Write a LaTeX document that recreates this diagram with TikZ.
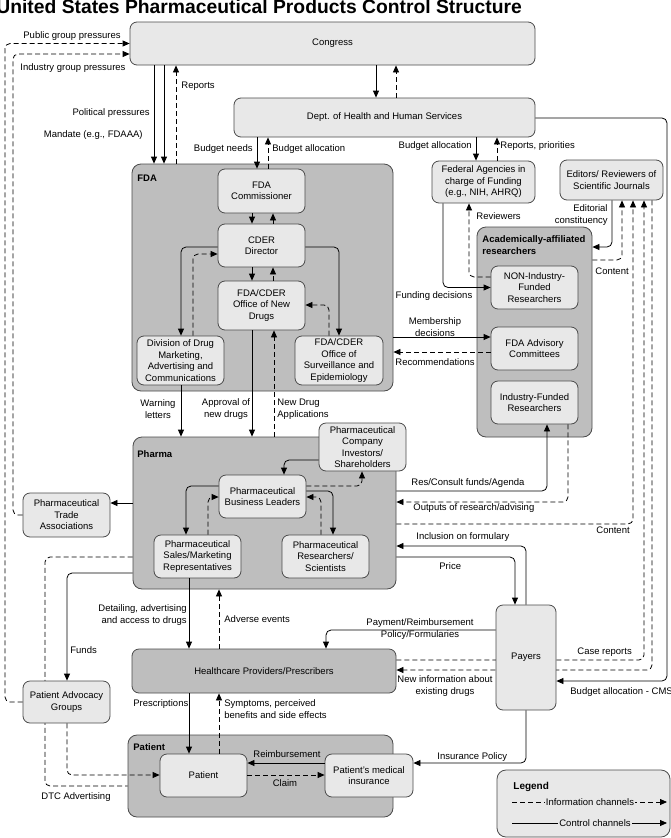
\documentclass[tikz,border=0pt]{standalone}
\usepackage{fontspec}
\setmainfont{Liberation Sans}
\usetikzlibrary{arrows.meta}
\definecolor{boxgray}{HTML}{E8E8E8}
\definecolor{groupgray}{HTML}{BEBEBE}
\definecolor{edgegray}{HTML}{4A4A4A}

\begin{document}
\begin{tikzpicture}[x=1pt, y=-1pt, >={Triangle[length=7pt,width=6pt]}, line width=0.8pt,
        every node/.style={font=\fontsize{9.5}{11.5}\selectfont, inner sep=1pt},
        box/.style={draw=edgegray, fill=boxgray, rounded corners=7pt, align=center},
        group/.style={draw=edgegray, fill=groupgray, rounded corners=9pt},
        wh/.style 2 args={minimum width=#1pt, minimum height=#2pt},
        ctrl/.style={->, rounded corners=5pt},
        info/.style={->, dash pattern=on 5pt off 3pt, rounded corners=5pt},
        lbl/.style={align=center},
        grouplbl/.style={anchor=west, font=\fontsize{9.5}{11.5}\selectfont\bfseries, align=left}]
    \useasboundingbox (0,0) rectangle (671,838);
    \node[anchor=base west, font=\fontsize{19.3}{22}\selectfont\bfseries, inner sep=0pt] (title) at (-4,13)
        {United States Pharmaceutical Products Control Structure};

    % containers
    \node[group, wh={261}{227}] (fda) at (262.5,277.5) {};
    \node[group, wh={115}{210}] (acad) at (534.5,332) {};
    \node[group, wh={263}{152}] (pharma) at (264.5,513) {};
    \node[group, wh={265}{82}] (patgrp) at (260.5,776) {};
    \node[grouplbl] (fdalbl) at (136,178) {FDA};
    \node[grouplbl] (acadlbl) at (481,245) {Academically-affiliated\\researchers};
    \node[grouplbl] (pharmalbl) at (136,454) {Pharma};
    \node[grouplbl] (patlbl) at (132,747) {Patient};

    % boxes
    \node[box, wh={405}{43}] (congress) at (332.5,43.5) {Congress};
    \node[box, wh={301}{39}] (hhs) at (384.5,117.5) {Dept. of Health and Human Services};
    \node[box, wh={87}{44}] (comm) at (261.5,191) {FDA\\Commissioner};
    \node[box, wh={87}{43}] (cder) at (261.5,245.5) {CDER\\Director};
    \node[box, wh={87}{49}] (ond) at (261.5,305.5) {FDA/CDER\\Office of New\\Drugs};
    \node[box, wh={87}{49}] (div) at (180.5,360.5) {Division of Drug\\Marketing,\\Advertising and\\Communications};
    \node[box, wh={88}{49}] (ose) at (339,360.5) {FDA/CDER\\Office of\\Surveillance and\\Epidemiology};
    \node[box, wh={103}{42}] (fed) at (483.5,182) {Federal Agencies in\\charge of Funding\\(e.g., NIH, AHRQ)};
    \node[box, wh={103}{40}] (editors) at (611.5,180) {Editors/ Reviewers of\\Scientific Journals};
    \node[box, wh={87}{43}] (nonind) at (534.5,287.5) {NON-Industry-\\Funded\\Researchers};
    \node[box, wh={87}{43}] (adv) at (534.5,348.5) {FDA Advisory\\Committees};
    \node[box, wh={87}{43}] (indf) at (534.5,402.5) {Industry-Funded\\Researchers};
    \node[box, wh={87}{48}] (invest) at (362.5,447) {Pharmaceutical\\Company\\Investors/\\Shareholders};
    \node[box, wh={87}{43}] (bl) at (262.5,496.5) {Pharmaceutical\\Business Leaders};
    \node[box, wh={87}{43}] (sales) at (197.5,556.5) {Pharmaceutical\\Sales/Marketing\\Representatives};
    \node[box, wh={87}{43}] (res) at (325.5,556.5) {Pharmaceutical\\Researchers/\\Scientists};
    \node[box, wh={87}{44}] (trade) at (66.5,515) {Pharmaceutical\\Trade\\Associations};
    \node[box, fill=groupgray, wh={264}{44}] (hcp) at (264,671) {Healthcare Providers/Prescribers};
    \node[box, wh={87}{43}] (patient) at (203.5,775.5) {Patient};
    \node[box, wh={88}{43}] (insur) at (369,775.5) {Patient’s medical\\insurance};

    % lines that run behind payers and advocacy groups
    \draw[info] (hcp.east |- 0,660) -| (editors.south -| 644,0);
    \draw[info] (editors.south -| 652,0) |- (hcp.east |- 0,670);
    \draw[info, -] (pharma.west |- 0,557) -| (45,786) -- (patgrp.west |- 0,786);
    \node[box, wh={60}{105}] (payers) at (526,657.5) {Payers};
    \node[box, wh={87}{42}] (advoc) at (66.5,702) {Patient Advocacy\\Groups};

    % congress and hhs
    \draw[info] (advoc.west) -| (5,43.5) -- (congress.west);
    \draw[info] (trade.west) -| (13,54) -- (congress.west |- 0,54);
    \draw[ctrl] (congress.south -| 154,0) -- (fda.north -| 154,0);
    \draw[ctrl] (congress.south -| 164,0) -- (fda.north -| 164,0);
    \draw[info] (fda.north -| 176,0) -- (congress.south -| 176,0);
    \draw[ctrl] (congress.south -| 376,0) -- (hhs.north -| 376,0);
    \draw[info] (hhs.north -| 396,0) -- (congress.south -| 396,0);
    \draw[ctrl] (hhs.south -| 257,0) -- (comm.north -| 257,0);
    \draw[info] (comm.north -| 268,0) -- (hhs.south -| 268,0);
    \draw[ctrl] (hhs.south -| 476,0) -- (fed.north -| 476,0);
    \draw[info] (fed.north -| 497,0) -- (hhs.south -| 497,0);
    \draw[ctrl] (hhs.east |- 0,118) -| (667,681) -- (payers.east |- 0,681);

    % inside fda
    \draw[ctrl] (comm.south -| 252,0) -- (cder.north -| 252,0);
    \draw[info] (cder.north -| 273,0) -- (comm.south -| 273,0);
    \draw[ctrl] (cder.south -| 252,0) -- (ond.north -| 252,0);
    \draw[info] (ond.north -| 273,0) -- (cder.south -| 273,0);
    \draw[ctrl] (cder.west |- 0,247) -| (div.north -| 181,0);
    \draw[info] (div.north -| 193,0) |- (cder.west |- 0,254);
    \draw[ctrl] (cder.east |- 0,247) -| (ose.north);
    \draw[info] (ose.north -| 329,0) |- (ond.east |- 0,305);
    \draw[ctrl] (div.south -| 181,0) -- (pharma.north -| 181,0);
    \draw[ctrl] (ond.south -| 252,0) -- (pharma.north -| 252,0);
    \draw[info] (pharma.north -| 274,0) -- (ond.south -| 274,0);

    % researchers and journals
    \draw[ctrl] (fed.south -| 443,0) |- (nonind.west);
    \draw[info] (nonind.west |- 0,277) -| (fed.south -| 469,0);
    \draw[ctrl] (fda.east |- 0,337) -- (adv.west |- 0,337);
    \draw[info] (adv.west |- 0,352) -- (fda.east |- 0,352);
    \draw[ctrl] (editors.south -| 612,0) |- (acad.east |- 0,247);
    \draw[info] (acad.east |- 0,260) -| (editors.south -| 622,0);
    \draw[info] (pharma.east |- 0,524) -| (editors.south -| 633,0);
    \draw[ctrl] (pharma.east |- 0,491) -| (indf.south -| 547,0);
    \draw[info] (indf.south -| 568,0) |- (pharma.east |- 0,502);

    % payers
    \draw[ctrl] (payers.north -| 526,0) |- (pharma.east |- 0,546);
    \draw[ctrl] (pharma.east |- 0,557) -| (payers.north -| 515,0);
    \draw[ctrl] (payers.west |- 0,630) -| (hcp.north -| 326,0);
    \draw[ctrl] (payers.south -| 526,0) |- (insur.east |- 0,763);

    % inside pharma
    \draw[ctrl] (invest.west |- 0,460) -| (bl.north -| 284,0);
    \draw[info] (bl.east |- 0,486) -| (invest.south -| 362,0);
    \draw[ctrl] (bl.west |- 0,486) -| (sales.north -| 186,0);
    \draw[info] (sales.north -| 208,0) |- (bl.west |- 0,497);
    \draw[ctrl] (bl.east |- 0,491) -| (res.north -| 333,0);
    \draw[info] (res.north -| 321,0) |- (bl.east |- 0,497);
    \draw[ctrl] (pharma.west |- 0,503) -- (trade.east |- 0,503);
    \draw[ctrl] (pharma.west |- 0,573) -| (advoc.north -| 67,0);

    % providers and patient
    \draw[ctrl] (sales.south -| 189,0) -- (hcp.north -| 189,0);
    \draw[info] (hcp.north -| 219,0) -- (pharma.south -| 219,0);
    \draw[ctrl] (hcp.south -| 189,0) -- (patient.north -| 189,0);
    \draw[info] (patient.north -| 219,0) -- (hcp.south -| 219,0);
    \draw[info] (advoc.south -| 67,0) |- (patient.west |- 0,775);
    \draw[ctrl] (insur.west |- 0,763) -- (patient.east |- 0,763);
    \draw[info] (patient.east |- 0,775) -- (insur.west |- 0,775);

    % labels
    \node[anchor=west] (l-public) at (22,36) {Public group pressures};
    \node[anchor=west] (l-industry) at (19,68) {Industry group pressures};
    \node[anchor=east] (l-political) at (151,113) {Political pressures};
    \node[anchor=east] (l-mandate) at (144,135) {Mandate (e.g., FDAAA)};
    \node[anchor=west] (l-reports) at (180,86) {Reports};
    \node[anchor=east] (l-needs) at (254,149) {Budget needs};
    \node[anchor=west] (l-alloc) at (271,149) {Budget allocation};
    \node[anchor=east] (l-fedalloc) at (473,146) {Budget allocation};
    \node[anchor=west] (l-prior) at (499,146) {Reports, priorities};
    \node[lbl] (l-warning) at (158,409) {Warning\\letters};
    \node[lbl] (l-approval) at (226,409) {Approval of\\new drugs};
    \node[anchor=west, align=left] (l-nda) at (276,409) {New Drug\\Applications};
    \node[anchor=west] (l-reviewers) at (475,216) {Reviewers};
    \node[lbl] (l-funding) at (434,296) {Funding decisions};
    \node[lbl] (l-member) at (435,327) {Membership\\decisions};
    \node[anchor=west] (l-recomm) at (394,362) {Recommendations};
    \node[anchor=east, align=right] (l-editorial) at (609,215) {Editorial\\constituency};
    \node[anchor=west] (l-content) at (594,271) {Content};
    \node[anchor=west] (l-resfunds) at (410,483) {Res/Consult funds/Agenda};
    \node[anchor=west] (l-outputs) at (412,508) {Outputs of research/advising};
    \node[anchor=west] (l-content2) at (595,530) {Content};
    \node[anchor=west] (l-inclusion) at (415,537) {Inclusion on formulary};
    \node[anchor=west] (l-price) at (438,566) {Price};
    \node[lbl] (l-payment) at (420,629) {Payment/Reimbursement\\Policy/Formularies};
    \node[anchor=west] (l-case) at (576,652) {Case reports};
    \node[lbl] (l-newinfo) at (445,686) {New information about\\existing drugs};
    \node[anchor=west] (l-cms) at (569,692) {Budget allocation - CMS};
    \node[anchor=west] (l-inspol) at (436,757) {Insurance Policy};
    \node[anchor=east, align=right] (l-detail) at (188,615) {Detailing, advertising\\and access to drugs};
    \node[anchor=west] (l-adverse) at (223,619) {Adverse events};
    \node[anchor=west] (l-funds) at (69,650) {Funds};
    \node[anchor=west] (l-prescr) at (132,704) {Prescriptions};
    \node[anchor=west, align=left] (l-symptoms) at (223,709) {Symptoms, perceived\\benefits and side effects};
    \node[lbl] (l-reimb) at (287,754) {Reimbursement};
    \node[lbl] (l-claim) at (285,783) {Claim};
    \node[anchor=west] (l-dtc) at (40,797) {DTC Advertising};

    % legend
    \node[box, wh={173}{67}, rounded corners=9pt] (legend) at (583.5,803.5) {};
    \node[anchor=west, font=\fontsize{10}{12}\selectfont\bfseries] (legtitle) at (512,787) {Legend};
    \coordinate (inf-a) at (512,802);
    \coordinate (inf-b) at (667,802);
    \coordinate (ctl-a) at (512,823);
    \coordinate (ctl-b) at (667,823);
    \draw[info] (inf-a) -- (inf-b);
    \node[fill=boxgray] (leginfo) at (590,802) {Information channels};
    \draw[ctrl] (ctl-a) -- (ctl-b);
    \node[fill=boxgray] (legctrl) at (595,823) {Control channels};
\end{tikzpicture}
\end{document}
